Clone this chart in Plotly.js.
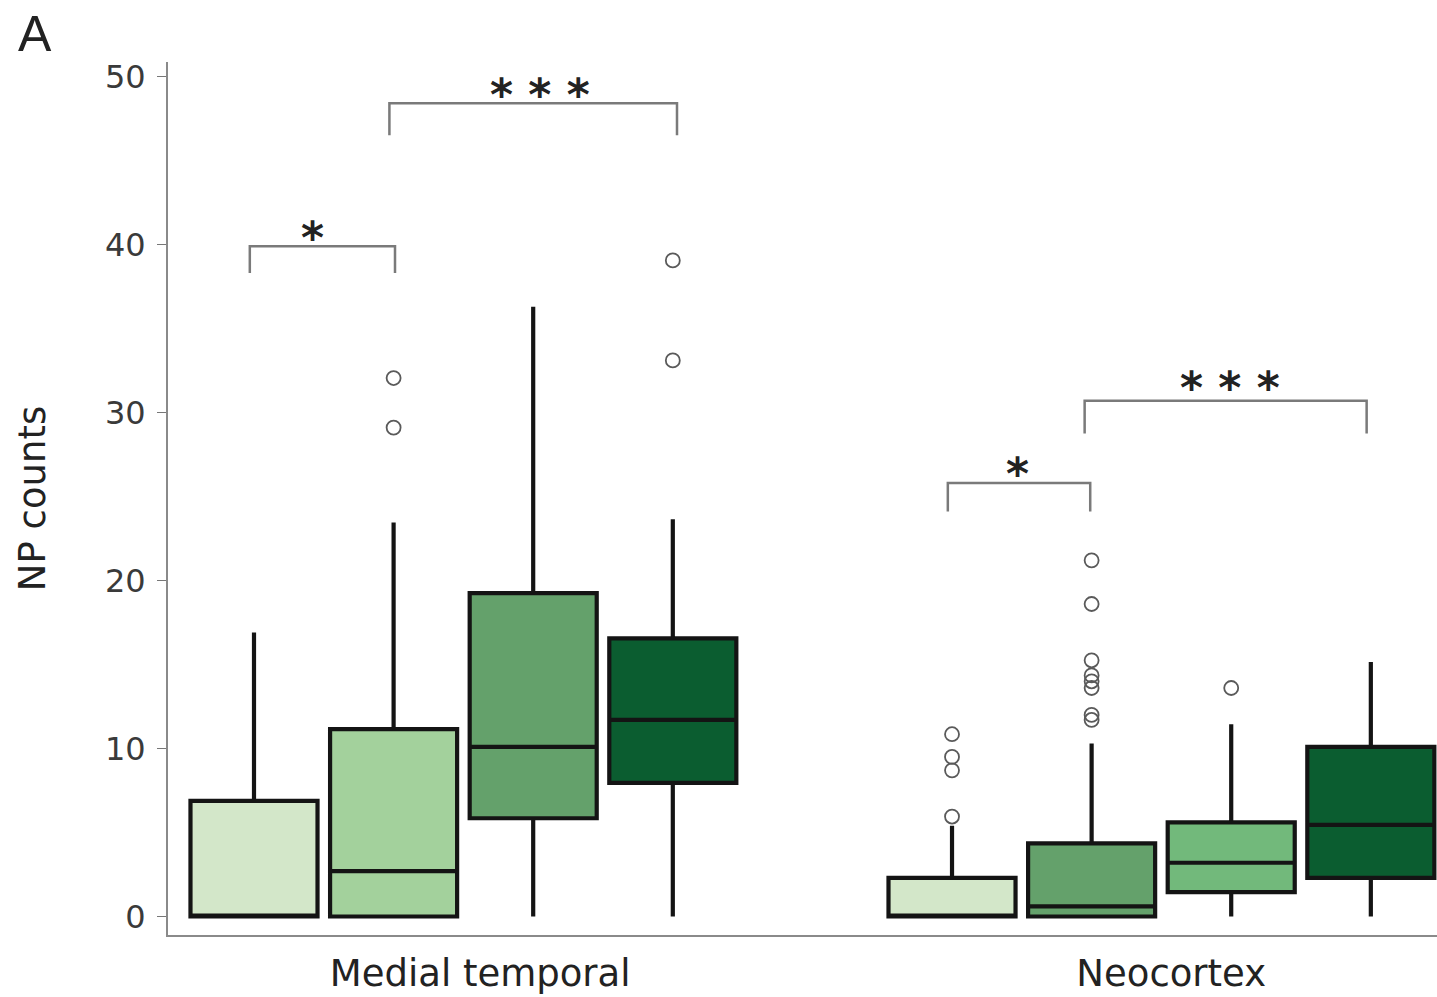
<!DOCTYPE html>
<html>
<head>
<meta charset="utf-8">
<script src="https://cdn.plot.ly/plotly-3.0.1.min.js"></script>
<style>
html,body{margin:0;padding:0;background:#fff;}
#chart{width:1437px;height:997px;}
</style>
</head>
<body>
<div id="chart"></div>
<script>
// ---- data ----
const groupLabels = ["Medial temporal", "Neocortex"];
const boxPositions = [1, 2, 3, 4, 6, 7, 8, 9];
const q1Values     = [0,    0,    5.85, 7.95, 0,    0,    1.45, 2.3];
const medianValues = [0,    2.7,  10.1, 11.7, 0,    0.6,  3.2,  5.45];
const q3Values     = [6.88, 11.15, 19.25, 16.55, 2.3, 4.35, 5.6,  10.1];
const lowerValues  = [0,    0,    0,    0,    0,    0,    0,    0];
const upperValues  = [16.9, 23.45, 36.3, 23.65, 5.4, 10.3, 11.45, 15.15];
const boxColors    = ["#d3e7c9", "#a3d19c", "#64a16b", "#0b5d30",
                      "#d3e7c9", "#64a16b", "#72b97b", "#0b5d30"];
const outlierPos = [2, 2, 4, 4, 6, 6, 6, 6, 7, 7, 7, 7, 7, 7, 7, 7, 8];
const outlierVal = [29.1, 32.05, 33.1, 39.05,
                    5.95, 8.7, 9.5, 10.85,
                    11.7, 12.0, 13.6, 14.0, 14.35, 15.25, 18.6, 21.2,
                    13.6];
const sigLabels = ["*", "* * *", "*", "* * *"];

// ---- traces ----
const traces = boxPositions.map((p, i) => ({
  type: "box",
  x: [p],
  q1: [q1Values[i]],
  median: [medianValues[i]],
  q3: [q3Values[i]],
  lowerfence: [lowerValues[i]],
  upperfence: [upperValues[i]],
  width: 0.91,
  fillcolor: boxColors[i],
  line: {color: "#141414", width: 4.2},
  whiskerwidth: 0,
  boxpoints: false,
  hoverinfo: "skip",
  showlegend: false
}));

traces.push({
  type: "scatter",
  mode: "markers",
  x: outlierPos,
  y: outlierVal,
  marker: {symbol: "circle-open", size: 14, color: "#5a5a5a", line: {width: 1.8}},
  hoverinfo: "skip",
  showlegend: false
});

// ---- brackets (layout) ----
const brackets = [
  {x0: 0.97, x1: 2.01, top: 39.9, bottom: 38.3, sx: 1.42, sy: 40.4},
  {x0: 1.97, x1: 4.03, top: 48.4, bottom: 46.5, sx: 3.05, sy: 48.95},
  {x0: 5.97, x1: 6.99, top: 25.8, bottom: 24.1, sx: 6.47, sy: 26.35},
  {x0: 6.95, x1: 8.97, top: 30.7, bottom: 28.75, sx: 7.99, sy: 31.5}
];
const shapes = brackets.map(b => ({
  type: "path",
  xref: "x", yref: "y",
  path: `M ${b.x0},${b.bottom} L ${b.x0},${b.top} L ${b.x1},${b.top} L ${b.x1},${b.bottom}`,
  line: {color: "#7a7a7a", width: 2.5}
}));
const FONT = "DejaVu Sans, Liberation Sans, Arial, sans-serif";
const annotations = brackets.map((b, i) => ({
  xref: "x", yref: "y", x: b.sx, y: b.sy,
  text: sigLabels[i], showarrow: false,
  xanchor: "center", yanchor: "middle",
  font: {family: FONT, size: 44, color: "#222222", weight: "bold"}
}));
annotations.push({
  xref: "paper", yref: "paper", x: -0.12, y: 1.066,
  xanchor: "left", yanchor: "top", showarrow: false,
  text: "A", font: {family: "Liberation Sans, Arial, sans-serif", size: 50, color: "#222222"}
});

const layout = {
  width: 1437, height: 997,
  margin: {l: 168, r: 0, t: 62, b: 62},
  paper_bgcolor: "#ffffff", plot_bgcolor: "#ffffff",
  showlegend: false,
  boxmode: "overlay",
  xaxis: {
    range: [0.384, 9.474],
    tickmode: "array",
    tickvals: [2.62, 7.57],
    ticktext: groupLabels,
    ticks: "",
    ticklabelstandoff: 5,
    showgrid: false, zeroline: false,
    showline: true, linecolor: "#8a8a8a", linewidth: 2,
    tickfont: {family: FONT, size: 37, color: "#222222"}
  },
  yaxis: {
    range: [-1.1, 50.86],
    tickmode: "array",
    tickvals: [0, 10, 20, 30, 40, 50],
    ticks: "outside", ticklen: 9, tickwidth: 1.5, tickcolor: "#777777",
    ticklabelstandoff: 5,
    showgrid: false, zeroline: false,
    showline: true, linecolor: "#8a8a8a", linewidth: 2,
    tickfont: {family: FONT, size: 32, color: "#3a3a3a"},
    title: {text: "NP counts", standoff: 48, font: {family: FONT, size: 37, color: "#222222"}}
  },
  shapes: shapes,
  annotations: annotations
};

Plotly.newPlot("chart", traces, layout, {staticPlot: true, displayModeBar: false});
</script>
</body>
</html>
